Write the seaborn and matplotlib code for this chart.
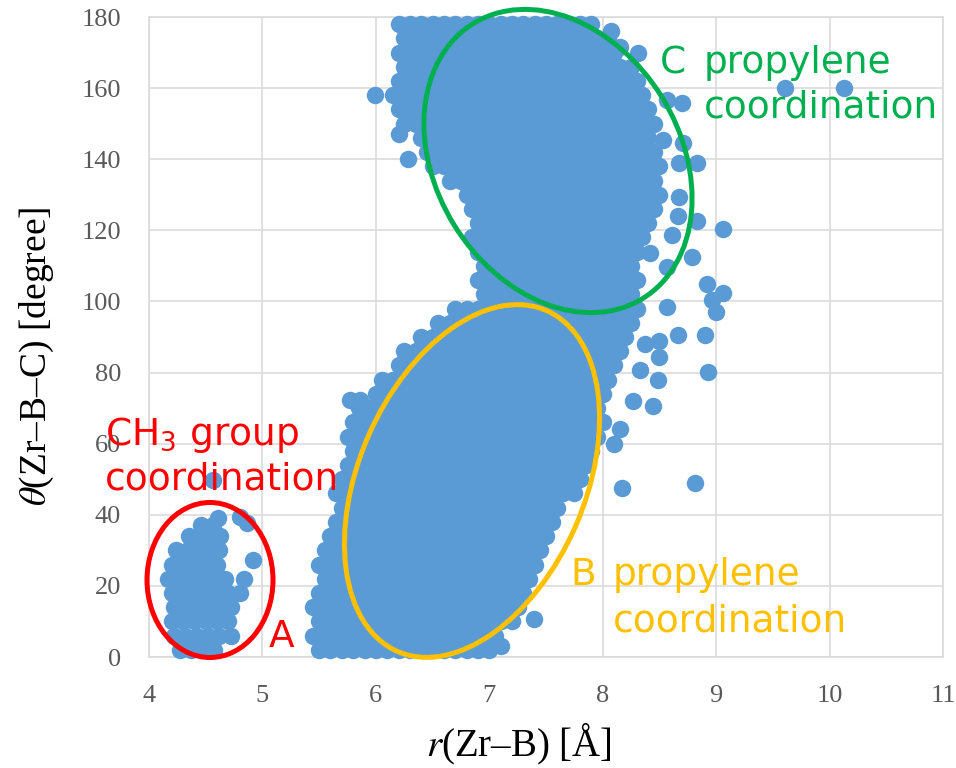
import matplotlib
matplotlib.use("Agg")
import matplotlib.pyplot as plt
import seaborn as sns
import pandas as pd
from matplotlib.patches import Ellipse

# ---- data (r in Å, theta in degree) ----
# cluster A (CH3 group coordination), one list of r per theta row
a_theta_rows = [2, 6, 10, 14, 18, 22, 26, 30, 34, 37]
a_r_rows = [
    [4.27, 4.37, 4.47, 4.57],
    [4.22, 4.32, 4.42, 4.52, 4.62, 4.72],
    [4.2, 4.3, 4.4, 4.5, 4.6, 4.7],
    [4.22, 4.32, 4.42, 4.52, 4.62, 4.72],
    [4.2, 4.3, 4.4, 4.5, 4.6, 4.7, 4.8],
    [4.17, 4.27, 4.37, 4.47, 4.57, 4.67, 4.84],
    [4.2, 4.3, 4.4, 4.5, 4.6],
    [4.24, 4.34, 4.44, 4.54, 4.62],
    [4.35, 4.45, 4.55, 4.63],
    [4.46, 4.56],
]

# cluster B (propylene coordination, low angle)
b_theta_rows = [2, 6, 10, 14, 18, 22, 26, 30, 34, 38, 42, 46, 50,
                54, 58, 62, 66, 70, 74, 78, 82, 86, 90, 94, 98]
b_r_rows = [
    [5.5, 5.6, 5.7, 5.8, 5.9, 6.0, 6.1, 6.2, 6.3, 6.4, 6.5, 6.6, 6.7, 6.8, 6.9, 7.0],
    [5.45, 5.55, 5.65, 5.75, 5.85, 5.95, 6.05, 6.15, 6.25, 6.35, 6.45, 6.55, 6.65, 6.75, 6.85, 6.95, 7.05],
    [5.5, 5.6, 5.7, 5.8, 5.9, 6.0, 6.1, 6.2, 6.3, 6.4, 6.5, 6.6, 6.7, 6.8, 6.9, 7.0, 7.1, 7.2],
    [5.45, 5.55, 5.65, 5.75, 5.85, 5.95, 6.05, 6.15, 6.25, 6.35, 6.45, 6.55, 6.65, 6.75, 6.85, 6.95, 7.05, 7.15, 7.25],
    [5.5, 5.6, 5.7, 5.8, 5.9, 6.0, 6.1, 6.2, 6.3, 6.4, 6.5, 6.6, 6.7, 6.8, 6.9, 7.0, 7.1, 7.2, 7.3],
    [5.55, 5.65, 5.75, 5.85, 5.95, 6.05, 6.15, 6.25, 6.35, 6.45, 6.55, 6.65, 6.75, 6.85, 6.95, 7.05, 7.15, 7.25, 7.35],
    [5.5, 5.6, 5.7, 5.8, 5.9, 6.0, 6.1, 6.2, 6.3, 6.4, 6.5, 6.6, 6.7, 6.8, 6.9, 7.0, 7.1, 7.2, 7.3, 7.4],
    [5.55, 5.65, 5.75, 5.85, 5.95, 6.05, 6.15, 6.25, 6.35, 6.45, 6.55, 6.65, 6.75, 6.85, 6.95, 7.05, 7.15, 7.25, 7.35, 7.45],
    [5.6, 5.7, 5.8, 5.9, 6.0, 6.1, 6.2, 6.3, 6.4, 6.5, 6.6, 6.7, 6.8, 6.9, 7.0, 7.1, 7.2, 7.3, 7.4, 7.5],
    [5.65, 5.75, 5.85, 5.95, 6.05, 6.15, 6.25, 6.35, 6.45, 6.55, 6.65, 6.75, 6.85, 6.95, 7.05, 7.15, 7.25, 7.35, 7.45, 7.55],
    [5.7, 5.8, 5.9, 6.0, 6.1, 6.2, 6.3, 6.4, 6.5, 6.6, 6.7, 6.8, 6.9, 7.0, 7.1, 7.2, 7.3, 7.4, 7.5, 7.6],
    [5.65, 5.75, 5.85, 5.95, 6.05, 6.15, 6.25, 6.35, 6.45, 6.55, 6.65, 6.75, 6.85, 6.95, 7.05, 7.15, 7.25, 7.35, 7.45, 7.55, 7.65, 7.75],
    [5.7, 5.8, 5.9, 6.0, 6.1, 6.2, 6.3, 6.4, 6.5, 6.6, 6.7, 6.8, 6.9, 7.0, 7.1, 7.2, 7.3, 7.4, 7.5, 7.6, 7.7, 7.8],
    [5.75, 5.85, 5.95, 6.05, 6.15, 6.25, 6.35, 6.45, 6.55, 6.65, 6.75, 6.85, 6.95, 7.05, 7.15, 7.25, 7.35, 7.45, 7.55, 7.65, 7.75, 7.85],
    [5.8, 5.9, 6.0, 6.1, 6.2, 6.3, 6.4, 6.5, 6.6, 6.7, 6.8, 6.9, 7.0, 7.1, 7.2, 7.3, 7.4, 7.5, 7.6, 7.7, 7.8, 7.9],
    [5.75, 5.85, 5.95, 6.05, 6.15, 6.25, 6.35, 6.45, 6.55, 6.65, 6.75, 6.85, 6.95, 7.05, 7.15, 7.25, 7.35, 7.45, 7.55, 7.65, 7.75, 7.85, 7.95],
    [5.8, 5.9, 6.0, 6.1, 6.2, 6.3, 6.4, 6.5, 6.6, 6.7, 6.8, 6.9, 7.0, 7.1, 7.2, 7.3, 7.4, 7.5, 7.6, 7.7, 7.8, 7.9, 8.0],
    [5.85, 5.95, 6.05, 6.15, 6.25, 6.35, 6.45, 6.55, 6.65, 6.75, 6.85, 6.95, 7.05, 7.15, 7.25, 7.35, 7.45, 7.55, 7.65, 7.75, 7.85, 7.95],
    [6.0, 6.1, 6.2, 6.3, 6.4, 6.5, 6.6, 6.7, 6.8, 6.9, 7.0, 7.1, 7.2, 7.3, 7.4, 7.5, 7.6, 7.7, 7.8, 7.9, 8.0],
    [6.05, 6.15, 6.25, 6.35, 6.45, 6.55, 6.65, 6.75, 6.85, 6.95, 7.05, 7.15, 7.25, 7.35, 7.45, 7.55, 7.65, 7.75, 7.85, 7.95, 8.05],
    [6.2, 6.3, 6.4, 6.5, 6.6, 6.7, 6.8, 6.9, 7.0, 7.1, 7.2, 7.3, 7.4, 7.5, 7.6, 7.7, 7.8, 7.9, 8.0, 8.1],
    [6.25, 6.35, 6.45, 6.55, 6.65, 6.75, 6.85, 6.95, 7.05, 7.15, 7.25, 7.35, 7.45, 7.55, 7.65, 7.75, 7.85, 7.95, 8.05, 8.15],
    [6.4, 6.5, 6.6, 6.7, 6.8, 6.9, 7.0, 7.1, 7.2, 7.3, 7.4, 7.5, 7.6, 7.7, 7.8, 7.9, 8.0, 8.1, 8.2],
    [6.55, 6.65, 6.75, 6.85, 6.95, 7.05, 7.15, 7.25, 7.35, 7.45, 7.55, 7.65, 7.75, 7.85, 7.95, 8.05, 8.15, 8.25],
    [6.7, 6.8, 6.9, 7.0, 7.1, 7.2, 7.3, 7.4, 7.5, 7.6, 7.7, 7.8, 7.9, 8.0, 8.1, 8.2, 8.3],
]

# cluster C (propylene coordination, high angle)
c_theta_rows = [102, 106, 110, 114, 118, 122, 126, 130, 134, 138,
                142, 146, 150, 154, 158, 162, 166, 170, 174, 178]
c_r_rows = [
    [6.95, 7.05, 7.15, 7.25, 7.35, 7.45, 7.55, 7.65, 7.75, 7.85, 7.95, 8.05, 8.15, 8.25],
    [6.9, 7.0, 7.1, 7.2, 7.3, 7.4, 7.5, 7.6, 7.7, 7.8, 7.9, 8.0, 8.1, 8.2, 8.3],
    [6.95, 7.05, 7.15, 7.25, 7.35, 7.45, 7.55, 7.65, 7.75, 7.85, 7.95, 8.05, 8.15, 8.25],
    [6.9, 7.0, 7.1, 7.2, 7.3, 7.4, 7.5, 7.6, 7.7, 7.8, 7.9, 8.0, 8.1, 8.2, 8.3],
    [6.85, 6.95, 7.05, 7.15, 7.25, 7.35, 7.45, 7.55, 7.65, 7.75, 7.85, 7.95, 8.05, 8.15, 8.25, 8.35],
    [6.9, 7.0, 7.1, 7.2, 7.3, 7.4, 7.5, 7.6, 7.7, 7.8, 7.9, 8.0, 8.1, 8.2, 8.3, 8.4],
    [6.85, 6.95, 7.05, 7.15, 7.25, 7.35, 7.45, 7.55, 7.65, 7.75, 7.85, 7.95, 8.05, 8.15, 8.25, 8.35, 8.45],
    [6.8, 6.9, 7.0, 7.1, 7.2, 7.3, 7.4, 7.5, 7.6, 7.7, 7.8, 7.9, 8.0, 8.1, 8.2, 8.3, 8.4, 8.5],
    [6.65, 6.75, 6.85, 6.95, 7.05, 7.15, 7.25, 7.35, 7.45, 7.55, 7.65, 7.75, 7.85, 7.95, 8.05, 8.15, 8.25, 8.35, 8.45],
    [6.5, 6.6, 6.7, 6.8, 6.9, 7.0, 7.1, 7.2, 7.3, 7.4, 7.5, 7.6, 7.7, 7.8, 7.9, 8.0, 8.1, 8.2, 8.3, 8.4, 8.5],
    [6.45, 6.55, 6.65, 6.75, 6.85, 6.95, 7.05, 7.15, 7.25, 7.35, 7.45, 7.55, 7.65, 7.75, 7.85, 7.95, 8.05, 8.15, 8.25, 8.35, 8.45],
    [6.4, 6.5, 6.6, 6.7, 6.8, 6.9, 7.0, 7.1, 7.2, 7.3, 7.4, 7.5, 7.6, 7.7, 7.8, 7.9, 8.0, 8.1, 8.2, 8.3, 8.4],
    [6.25, 6.35, 6.45, 6.55, 6.65, 6.75, 6.85, 6.95, 7.05, 7.15, 7.25, 7.35, 7.45, 7.55, 7.65, 7.75, 7.85, 7.95, 8.05, 8.15, 8.25, 8.35, 8.45],
    [6.2, 6.3, 6.4, 6.5, 6.6, 6.7, 6.8, 6.9, 7.0, 7.1, 7.2, 7.3, 7.4, 7.5, 7.6, 7.7, 7.8, 7.9, 8.0, 8.1, 8.2, 8.3, 8.4],
    [6.15, 6.25, 6.35, 6.45, 6.55, 6.65, 6.75, 6.85, 6.95, 7.05, 7.15, 7.25, 7.35, 7.45, 7.55, 7.65, 7.75, 7.85, 7.95, 8.05, 8.15, 8.25, 8.35],
    [6.2, 6.3, 6.4, 6.5, 6.6, 6.7, 6.8, 6.9, 7.0, 7.1, 7.2, 7.3, 7.4, 7.5, 7.6, 7.7, 7.8, 7.9, 8.0, 8.1, 8.2, 8.3],
    [6.25, 6.35, 6.45, 6.55, 6.65, 6.75, 6.85, 6.95, 7.05, 7.15, 7.25, 7.35, 7.45, 7.55, 7.65, 7.75, 7.85, 7.95, 8.05, 8.15, 8.25],
    [6.2, 6.3, 6.4, 6.5, 6.6, 6.7, 6.8, 6.9, 7.0, 7.1, 7.2, 7.3, 7.4, 7.5, 7.6, 7.7, 7.8, 7.9, 8.0, 8.1],
    [6.25, 6.35, 6.45, 6.55, 6.65, 6.75, 6.85, 6.95, 7.05, 7.15, 7.25, 7.35, 7.45, 7.55, 7.65, 7.75, 7.85, 7.95, 8.05],
    [6.2, 6.3, 6.4, 6.5, 6.6, 6.7, 6.8, 6.9, 7.0, 7.1, 7.2, 7.3, 7.4, 7.5, 7.6, 7.7, 7.8, 7.9],
]

# scattered single points around the clusters
stray_r = [4.61, 4.80, 4.86, 4.92, 4.56, 5.77, 5.86, 7.10, 7.39, 7.76, 7.73,
           8.17, 8.81, 8.10, 8.15, 8.27, 8.44, 8.33, 8.49, 8.50, 8.37, 8.50,
           8.66, 8.90, 8.93, 9.00, 8.96, 8.57, 9.06, 8.92, 8.57, 8.79, 8.42,
           8.61, 9.06, 8.83, 8.66, 8.67, 8.67, 8.83, 8.53, 8.71, 8.57, 8.70,
           8.31, 8.15, 8.07, 9.61, 10.13, 5.99, 6.20, 6.28]
stray_theta = [39.0, 39.5, 37.6, 27.3, 49.8, 72.3, 72.3, 3.0, 10.7, 52.0, 47.0,
               47.5, 49.0, 60.0, 64.0, 72.0, 70.6, 80.7, 78.0, 84.4, 88.0, 89.0,
               90.6, 90.6, 80.2, 97.0, 100.4, 98.5, 102.4, 105.0, 109.8, 112.5, 113.6,
               118.7, 120.4, 122.5, 124.0, 129.5, 139.0, 139.0, 145.4, 144.6, 156.7, 155.8,
               170.0, 171.6, 176.0, 160.0, 160.0, 158.0, 147.0, 140.0]

x_ticks = [4, 5, 6, 7, 8, 9, 10, 11]
y_ticks = [0, 20, 40, 60, 80, 100, 120, 140, 160, 180]

DOT = "#5B9BD5"
GREEN = "#00B050"
YELLOW = "#FFC000"
RED = "#FF0000"
GRID = "#D9D9D9"


def flatten(theta_rows, r_rows):
    r, th = [], []
    for t, xs in zip(theta_rows, r_rows):
        r += xs
        th += [t] * len(xs)
    return r, th


pts_r, pts_t = [], []
for tr, rr in [(a_theta_rows, a_r_rows), (b_theta_rows, b_r_rows), (c_theta_rows, c_r_rows)]:
    r, t = flatten(tr, rr)
    pts_r += r
    pts_t += t
pts_r += stray_r
pts_t += stray_theta
df = pd.DataFrame({"r": pts_r, "theta": pts_t})

sns.set_theme(style="white")
plt.rcParams["font.family"] = ["Liberation Serif", "DejaVu Serif"]
plt.rcParams["mathtext.fontset"] = "stix"

W, H = 956, 768
fig = plt.figure(figsize=(W / 100, H / 100), dpi=100)
ax = fig.add_axes([149 / W, 1 - 657 / H, 794 / W, 640 / H])

sns.scatterplot(data=df, x="r", y="theta", s=158, color=DOT, linewidth=0,
                legend=False, ax=ax, zorder=3)
ax.collections[0].set_clip_on(False)

ax.set_xlim(4, 11)
ax.set_ylim(0, 180)
ax.set_xticks(x_ticks)
ax.set_yticks(y_ticks)
ax.set_axisbelow(True)
ax.grid(True, color=GRID, linewidth=1.1)
for sp in ax.spines.values():
    sp.set_color(GRID)
    sp.set_linewidth(1.1)
ax.tick_params(length=0, labelsize=19, labelcolor="#595959", pad=20)

ax.set_xlabel(r"$r$(Zr–B) [Å]", fontsize=28, color="black")
ax.xaxis.set_label_coords(0.466, -0.156)
ax.xaxis.label.set_verticalalignment("baseline")
ax.set_ylabel(r"$\theta$(Zr–B–C) [degree]", fontsize=27, color="black")
ax.yaxis.set_label_coords(-0.141, 0.469)
ax.yaxis.label.set_verticalalignment("center")


def px_ellipse(cx, cy, w, h, angle, color):
    e = Ellipse((cx / 100, (H - cy) / 100), w / 100, h / 100, angle=angle,
                transform=fig.dpi_scale_trans, fill=False, edgecolor=color,
                linewidth=3.6, clip_on=False, zorder=5)
    fig.add_artist(e)


px_ellipse(558, 161, 323, 244, -58.3, GREEN)
px_ellipse(472, 481, 372, 226, 66.4, YELLOW)
px_ellipse(210, 580, 126, 155, 0, RED)


def px_text(x, y, s, color):
    fig.text(x / W, 1 - y / H, s, ha="left", va="baseline", fontsize=27,
             color=color, family="DejaVu Sans", math_fontfamily="dejavusans",
             zorder=6)


px_text(660, 73, "C", GREEN)
px_text(704, 73, "propylene", GREEN)
px_text(704, 118, "coordination", GREEN)
px_text(570, 585, "B", YELLOW)
px_text(613, 585, "propylene", YELLOW)
px_text(613, 632, "coordination", YELLOW)
px_text(105, 445, r"CH$_3$ group", RED)
px_text(105, 490, "coordination", RED)
px_text(269, 647, "A", RED)

fig.savefig("out.png", dpi=100)
